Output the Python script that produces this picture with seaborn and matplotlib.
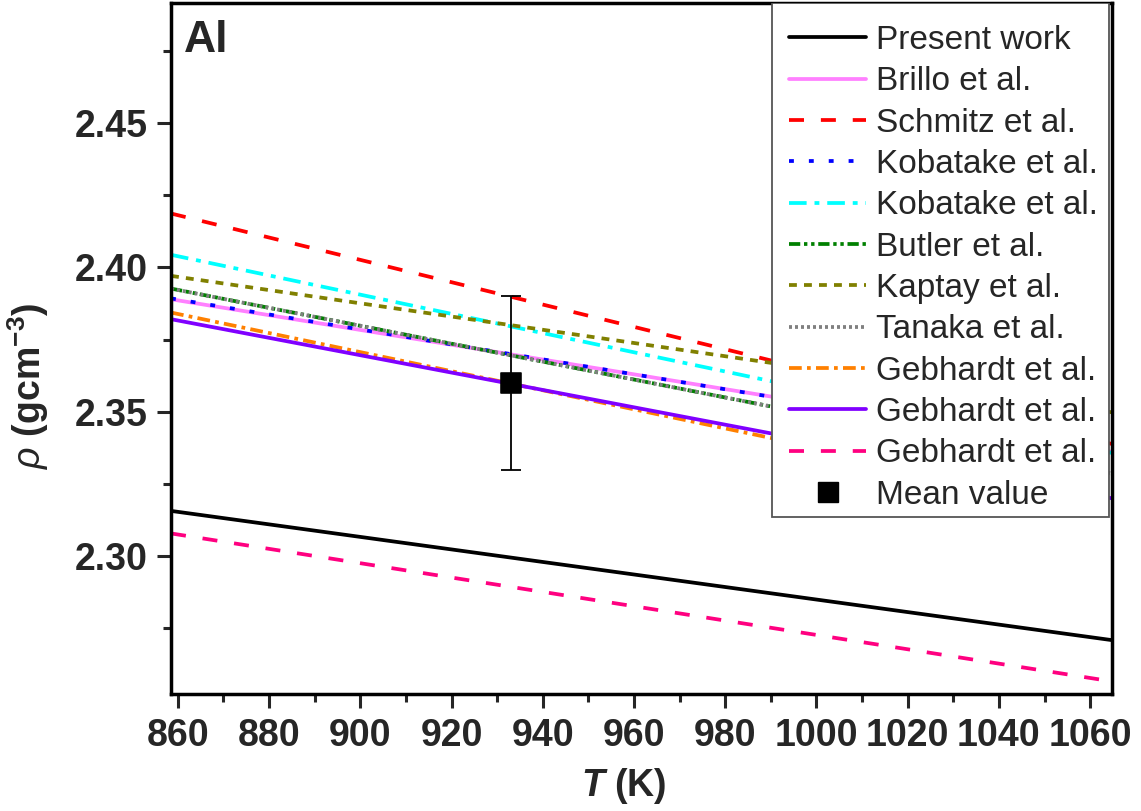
import numpy as np
import pandas as pd
import matplotlib
matplotlib.use('Agg')
import matplotlib.pyplot as plt
from matplotlib.patches import Rectangle
from matplotlib.ticker import MultipleLocator, FormatStrFormatter
import seaborn as sns

# temperatures at the two ends of the plotted lines (K)
T_ends = [858.5, 1065.0]

labels = ['Present work', 'Brillo et al.', 'Schmitz et al.', 'Kobatake et al.',
          'Kobatake et al.', 'Butler et al.', 'Kaptay et al.', 'Tanaka et al.',
          'Gebhardt et al.', 'Gebhardt et al.', 'Gebhardt et al.']

# density (g/cm3) read at T_ends
rho_present = [2.3157, 2.2709]
rho_brillo = [2.3890, 2.3361]
rho_schmitz = [2.4187, 2.3388]
rho_kobatake1 = [2.3893, 2.3358]
rho_kobatake2 = [2.4044, 2.3357]
rho_butler = [2.3927, 2.3286]
rho_kaptay = [2.3971, 2.3498]
rho_tanaka = [2.3927, 2.3286]
rho_gebhardt1 = [2.3844, 2.3162]
rho_gebhardt2 = [2.3821, 2.3200]
rho_gebhardt3 = [2.3079, 2.2566]

mean_T = [933]
mean_rho = [2.36]
mean_err = [0.03]

series = [rho_present, rho_brillo, rho_schmitz, rho_kobatake1, rho_kobatake2,
          rho_butler, rho_kaptay, rho_tanaka, rho_gebhardt1, rho_gebhardt2,
          rho_gebhardt3]

colors = ['black', '#FF80FF', '#FF0000', '#0000FF', '#00FFFF', '#008000',
          '#808000', '#808080', '#FF8000', '#8000FF', '#FF0080']
styles = ['-', '-', (0, (4.0, 4.5)), (0, (1.3, 4.0)), (0, (4.7, 2.1, 1.3, 2.1)),
          (0, (3.0, 1.0, 0.9, 1.0, 0.9, 1.0)), (0, (2.1, 1.9)), (0, (0.8, 0.8)),
          (0, (3.4, 1.4, 1.0, 1.4)), '-', (0, (4.0, 4.5))]

sns.set_style('ticks')
plt.rcParams['font.family'] = ['Liberation Sans', 'DejaVu Sans']
plt.rcParams['mathtext.fontset'] = 'custom'
plt.rcParams['mathtext.rm'] = 'Liberation Sans:bold'
plt.rcParams['mathtext.bf'] = 'Liberation Sans:bold'
plt.rcParams['mathtext.it'] = 'Liberation Sans:italic'
plt.rcParams['mathtext.bfit'] = 'Liberation Sans:italic:bold'

fig = plt.figure(figsize=(11.41, 8.11), dpi=100)
ax = fig.add_axes([0.1499, 0.1443, 0.8247, 0.852])

handles = []
for lab, vals, c, ls in zip(labels, series, colors, styles):
    df = pd.DataFrame({'T': T_ends, 'rho': vals})
    sns.lineplot(data=df, x='T', y='rho', color=c, linestyle=ls, linewidth=2.7,
                 ax=ax, legend=False)
    handles.append(ax.lines[-1])

ax.errorbar(mean_T, mean_rho, yerr=mean_err, fmt='none', ecolor='black',
            elinewidth=1.3, capsize=7.5, capthick=1.3, zorder=5)
sns.scatterplot(x=mean_T, y=mean_rho, marker='s', s=210, color='black',
                edgecolor='black', ax=ax, zorder=6, legend=False)
mean_handle = plt.Line2D([], [], marker='s', color='black', linestyle='none',
                         markersize=14)

ax.set_xlim(858.5, 1064.8)
ax.set_ylim(2.2523, 2.4916)
ax.xaxis.set_major_locator(MultipleLocator(20))
ax.xaxis.set_minor_locator(MultipleLocator(10))
ax.yaxis.set_major_locator(MultipleLocator(0.05))
ax.yaxis.set_minor_locator(MultipleLocator(0.025))
ax.yaxis.set_major_formatter(FormatStrFormatter('%.2f'))

ax.tick_params(which='major', length=10, width=2.2, labelsize=27, pad=7)
ax.tick_params(which='minor', length=6, width=2.2)
for t in ax.get_xticklabels() + ax.get_yticklabels():
    t.set_fontweight('bold')
for sp in ax.spines.values():
    sp.set_linewidth(2.5)
    sp.set_color('black')

ax.set_xlabel(r'$\mathbfit{T}$ (K)', fontsize=27, fontweight='bold')
ax.xaxis.set_label_coords(0.481, -0.104)
ax.set_ylabel(r'$\it{\rho}$ (gcm$^{\mathbf{-3}}$)', fontsize=27, fontweight='bold')
ax.yaxis.set_label_coords(-0.128, 0.446)

ax.text(0.014, 0.975, 'Al', transform=ax.transAxes, fontsize=32,
        fontweight='bold', va='top', ha='left')

# white legend box reaching the top spine
box = Rectangle((0.6384, 0.2562), 0.3584, 0.7438, transform=ax.transAxes,
                facecolor='white', edgecolor='#555555', linewidth=1.3, zorder=8)
ax.add_patch(box)

leg = ax.legend(handles + [mean_handle], labels + ['Mean value'],
                loc='upper left', bbox_to_anchor=(0.657, 0.968), borderaxespad=0,
                borderpad=0, fontsize=24, handlelength=2.3, handletextpad=0.3,
                labelspacing=0.31, frameon=False)
leg.set_zorder(10)

fig.savefig('out.png', dpi=100)
